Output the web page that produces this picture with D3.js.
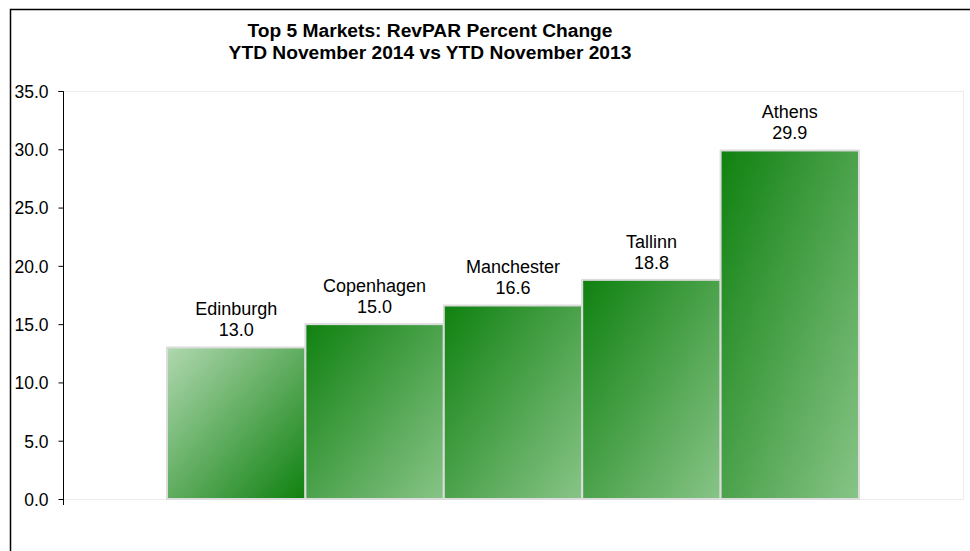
<!DOCTYPE html>
<html lang="en">
<head>
<meta charset="utf-8">
<script src="https://cdn.jsdelivr.net/npm/d3@7"></script>
<style>
  body { margin: 0; background: #fff; }
  text { font-family: Arial, "Liberation Sans", sans-serif; fill: #000; }
</style>
</head>
<body>
<script>
  // chart data
  const markets = ['Edinburgh', 'Copenhagen', 'Manchester', 'Tallinn', 'Athens']
  const revparChange = [13.0, 15.0, 16.6, 18.8, 29.9]
  const yTicks = [0, 5, 10, 15, 20, 25, 30, 35]
  const titleLines = ['Top 5 Markets: RevPAR Percent Change', 'YTD November 2014 vs YTD November 2013']

  const w = 970
  const h = 551
  const plot = { left: 63, right: 963, top: 91, bottom: 499 }

  const svg = d3.select('body').append('svg')
      .attr('width', w)
      .attr('height', h)

  // outer chart border (runs off the right/bottom edges)
  svg.append('path')
      .attr('d', 'M10.5,' + (h + 5) + 'V9.5H' + (w + 5))
      .attr('fill', 'none')
      .attr('stroke', '#000')
      .attr('stroke-width', 1.5)

  // gradients: first bar light -> dark, others dark -> light
  const defs = svg.append('defs')
  function gradient(id, c1, c2) {
    const g = defs.append('linearGradient').attr('id', id)
        .attr('x1', '0%').attr('y1', '0%').attr('x2', '100%').attr('y2', '100%')
    g.append('stop').attr('offset', '0%').attr('stop-color', c1)
    g.append('stop').attr('offset', '100%').attr('stop-color', c2)
  }
  gradient('gLight', '#b0d8b0', '#0f810f')
  gradient('gDark', '#0f810f', '#88c488')

  const x = d3.scaleBand()
      .domain(markets)
      .range([167, 859])
      .padding(0)

  const y = d3.scaleLinear()
      .domain([0, 35])
      .range([plot.bottom, plot.top])

  // plot area border (light dotted)
  svg.append('rect')
      .attr('x', plot.left + 0.5)
      .attr('y', plot.top + 0.5)
      .attr('width', plot.right - plot.left)
      .attr('height', plot.bottom - plot.top)
      .attr('fill', 'none')
      .attr('stroke', '#d9d9d9')
      .attr('stroke-dasharray', '1,1')

  // bars
  svg.selectAll('rect.bar')
      .data(markets)
      .enter()
      .append('rect')
      .attr('class', 'bar')
      .attr('x', function(d) { return x(d) })
      .attr('y', function(d, i) { return y(revparChange[i]) })
      .attr('width', x.bandwidth())
      .attr('height', function(d, i) { return y(0) - y(revparChange[i]) })
      .attr('fill', function(d, i) { return i === 0 ? 'url(#gLight)' : 'url(#gDark)' })
      .attr('stroke', '#dcdcdc')
      .attr('stroke-width', 2)

  // y axis
  const yAxis = d3.axisLeft(y)
      .tickValues(yTicks)
      .tickFormat(d3.format('.1f'))
      .tickSize(5)
      .tickPadding(3)

  const ya = svg.append('g')
      .attr('transform', 'translate(' + (plot.left + 0.5) + ',0)')
      .call(yAxis)
  ya.select('.domain').attr('stroke', '#000').attr('d', 'M-5,' + (plot.top + 0.5) + 'H0V' + (plot.bottom + 6))
  ya.selectAll('.tick line').attr('stroke', '#000')
  ya.selectAll('.tick text')
      .attr('font-size', 17.5)
      .attr('font-family', 'Arial, "Liberation Sans", sans-serif')
      .attr('fill', '#111')
      .attr('x', -15)
      .attr('dy', '0.36em')

  // bar labels
  const lab = svg.selectAll('text.lab')
      .data(markets)
      .enter()
      .append('text')
      .attr('class', 'lab')
      .attr('text-anchor', 'middle')
      .attr('font-size', 18)
      .attr('fill', '#111')
  lab.append('tspan')
      .attr('x', function(d) { return x(d) + x.bandwidth() / 2 })
      .attr('y', function(d, i) { return y(revparChange[i]) - 32 })
      .text(function(d) { return d })
  lab.append('tspan')
      .attr('x', function(d) { return x(d) + x.bandwidth() / 2 })
      .attr('y', function(d, i) { return y(revparChange[i]) - 11 })
      .text(function(d, i) { return d3.format('.1f')(revparChange[i]) })

  // title
  svg.selectAll('text.title')
      .data(titleLines)
      .enter()
      .append('text')
      .attr('class', 'title')
      .attr('x', 430)
      .attr('y', function(d, i) { return 37 + i * 22 })
      .attr('text-anchor', 'middle')
      .attr('font-size', 19.2)
      .attr('font-weight', 'bold')
      .text(function(d) { return d })
</script>
</body>
</html>
